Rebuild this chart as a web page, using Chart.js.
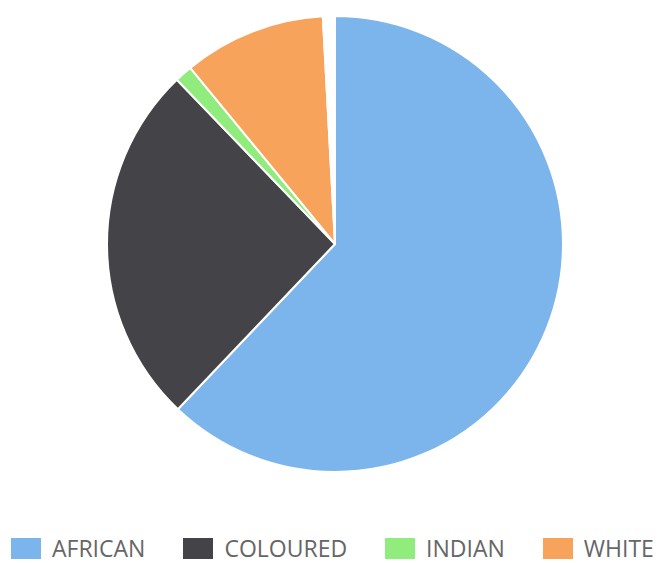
<!DOCTYPE html>
<html>
<head>
<meta charset="utf-8">
<script src="https://cdn.jsdelivr.net/npm/chart.js@4"></script>
<style>
    html, body { margin: 0; padding: 0; background: #fff; }
    #wrap { position: relative; width: 659px; height: 563px; overflow: hidden; }
    #chart-box { position: absolute; left: 0; top: 0; width: 659px; height: 476px; }
    #legend { position: absolute; left: 11px; top: 536px; height: 24px; display: flex; align-items: center; gap: 38px;
              font-family: "Open Sans", "Noto Sans", sans-serif; font-size: 23px; color: #666; white-space: nowrap; }
    #legend .item { display: flex; align-items: center; }
    #legend .swatch { width: 30px; height: 21px; margin-right: 11px; }
</style>
</head>
<body>
<div id="wrap">
    <div id="chart-box"><canvas id="pieChart"></canvas></div>
    <div id="legend"></div>
</div>
<script>
const categories = ['AFRICAN', 'COLOURED', 'INDIAN', 'WHITE', 'OTHER'];
const shares = [62.1, 25.7, 1.25, 10.1, 0.85];
const sliceColors = ['#7cb5ec', '#434348', '#90ed7d', '#f7a35c', '#ffffff'];
const legendCount = 4;

document.addEventListener('DOMContentLoaded', function() {
    const ctx = document.getElementById('pieChart').getContext('2d');
    window.pieChart = new Chart(ctx, {
        type: 'pie',
        data: {
            labels: categories,
            datasets: [{
                data: shares,
                backgroundColor: sliceColors,
                borderColor: '#ffffff',
                borderWidth: 2
            }]
        },
        options: {
            responsive: true,
            maintainAspectRatio: false,
            animation: false,
            radius: 228,
            layout: { padding: { top: 12, left: 11 } },
            plugins: {
                legend: { display: false },
                tooltip: { enabled: false }
            }
        }
    });

    // legend under the pie, only the four named groups
    const legend = document.getElementById('legend');
    categories.slice(0, legendCount).forEach((name, i) => {
        const item = document.createElement('div');
        item.className = 'item';
        item.innerHTML = `<span class="swatch" style="background:${sliceColors[i]}"></span><span>${name}</span>`;
        legend.appendChild(item);
    });
});
</script>
</body>
</html>
